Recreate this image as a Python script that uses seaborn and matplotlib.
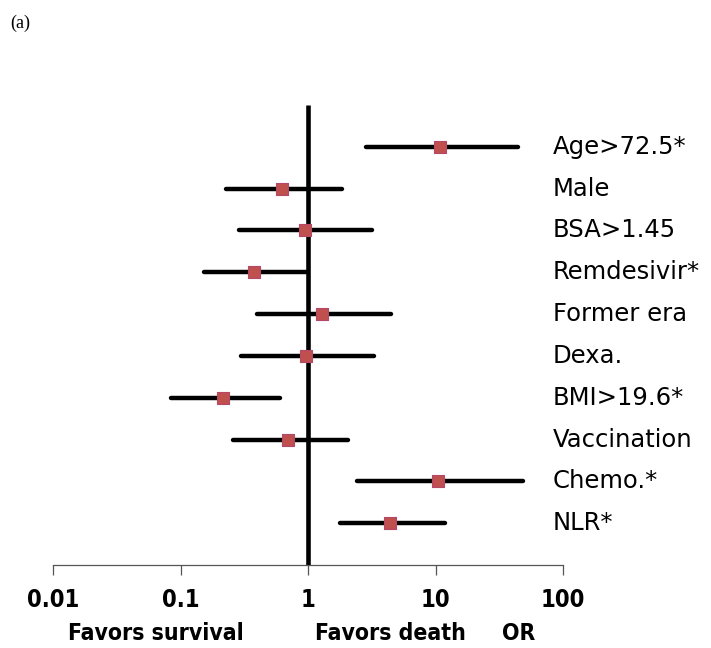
"""Forest plot of odds ratios (panel a)."""

import matplotlib.pyplot as plt
import matplotlib.transforms as mtransforms
import numpy as np
import pandas as pd
import seaborn as sns

labels = ["Age>72.5*", "Male", "BSA>1.45", "Remdesivir*", "Former era",
          "Dexa.", "BMI>19.6*", "Vaccination", "Chemo.*", "NLR*"]
odds_ratio = [10.8, 0.63, 0.95, 0.38, 1.29, 0.97, 0.215, 0.70, 10.4, 4.4]
ci_low = [2.85, 0.227, 0.288, 0.153, 0.398, 0.298, 0.084, 0.258, 2.42, 1.78]
ci_high = [44.4, 1.85, 3.18, 0.98, 4.48, 3.29, 0.60, 2.06, 48.6, 11.9]
tick_values = [0.01, 0.1, 1, 10, 100]
tick_labels = ["0.01", "0.1", "1", "10", "100"]

df = pd.DataFrame({"label": labels, "or": odds_ratio, "lo": ci_low, "hi": ci_high})
df["row"] = np.arange(1, len(df) + 1)

sns.set_style("white")
plt.rcParams["text.color"] = "black"
plt.rcParams["xtick.color"] = "black"
plt.rcParams["xtick.labelcolor"] = "black"

fig = plt.figure(figsize=(7.11, 6.48), dpi=100)
ax = fig.add_axes([53 / 711, 1 - 565 / 648, 510 / 711, 460 / 648])

y_bottom = 11.0
ax.vlines(1, 0, y_bottom, color="black", lw=3.3, zorder=1)
ax.hlines(df["row"], df["lo"], df["hi"], color="black", lw=3.2,
          capstyle="round", zorder=2)
sns.scatterplot(data=df, x="or", y="row", marker="s", s=80, color="#C0504D",
                edgecolor="#B5476A", linewidth=0.8, zorder=3, ax=ax, legend=False)

ax.set_xscale("log")
ax.set_xlim(0.01, 100)
ax.set_ylim(y_bottom, 0)
ax.set_xlabel("")
ax.set_ylabel("")
ax.set_yticks([])
ax.set_xticks(tick_values)
ax.set_xticklabels(tick_labels)
ax.minorticks_off()
ax.tick_params(axis="x", direction="out", length=7.5, width=0.9, color="#555555",
               pad=9, bottom=True)
narrow = dict(family=["DejaVu Sans"], fontweight="bold", fontstretch="condensed")
for lab in ax.get_xticklabels():
    lab.set(**narrow)
    lab.set_fontsize(17)

for side in ["top", "right", "left"]:
    ax.spines[side].set_visible(False)
ax.spines["bottom"].set_color("#555555")
ax.spines["bottom"].set_linewidth(0.9)

# row labels on the right
trans = mtransforms.blended_transform_factory(ax.transAxes, ax.transData)
for _, r in df.iterrows():
    ax.text(0.980, r["row"], r["label"], transform=trans, ha="left", va="center",
            fontsize=17.5, family=["DejaVu Sans"], clip_on=False)

# bottom annotations
note_y = 1 - 634 / 648
fig.text(68 / 711, note_y, "Favors survival", fontsize=16.5, va="center", ha="left", **narrow)
fig.text(315 / 711, note_y, "Favors death", fontsize=16.5, va="center", ha="left", **narrow)
fig.text(502 / 711, note_y, "OR", fontsize=16.5, va="center", ha="left", **narrow)

fig.text(10 / 711, 1 - 23 / 648, "(a)", family=["Liberation Serif", "DejaVu Serif"],
         fontsize=13, va="center", ha="left")

plt.savefig("out.png", dpi=100)
plt.close()
